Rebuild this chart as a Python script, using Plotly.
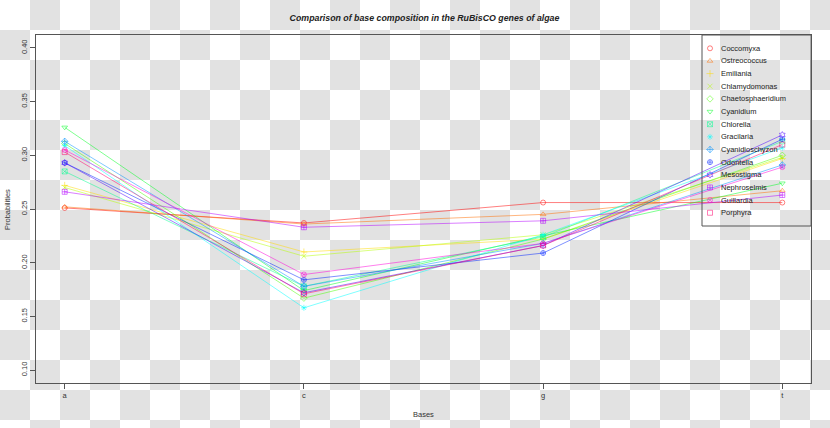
import plotly.graph_objects as go

bases = ["a", "c", "g", "t"]
species = ["Coccomyxa", "Ostreococcus", "Emiliania", "Chlamydomonas", "Chaetosphaeridium",
           "Cyanidium", "Chlorella", "Gracilaria", "Cyanidioschyzon", "Odontella",
           "Mesostigma", "Nephroselmis", "Guillardia", "Porphyra"]

coccomyxa = [0.251, 0.237, 0.256, 0.256]
ostreococcus = [0.252, 0.236, 0.245, 0.267]
emiliania = [0.272, 0.210, 0.222, 0.297]
chlamydomonas = [0.270, 0.206, 0.226, 0.298]
chaetosphaeridium = [0.311, 0.167, 0.222, 0.300]
cyanidium = [0.326, 0.174, 0.225, 0.274]
chlorella = [0.285, 0.178, 0.224, 0.313]
gracilaria = [0.309, 0.158, 0.226, 0.307]
cyanidioschyzon = [0.313, 0.178, 0.218, 0.291]
odontella = [0.293, 0.184, 0.209, 0.315]
mesostigma = [0.293, 0.172, 0.216, 0.319]
nephroselmis = [0.266, 0.233, 0.239, 0.263]
guillardia = [0.305, 0.189, 0.218, 0.289]
porphyra = [0.303, 0.171, 0.216, 0.310]

series = [coccomyxa, ostreococcus, emiliania, chlamydomonas, chaetosphaeridium, cyanidium,
          chlorella, gracilaria, cyanidioschyzon, odontella, mesostigma, nephroselmis,
          guillardia, porphyra]

y_ticks = [0.10, 0.15, 0.20, 0.25, 0.30, 0.35, 0.40]

# R rainbow(14)
colors = ["#FF0000", "#FF6D00", "#FFDB00", "#B6FF00", "#49FF00", "#00FF24", "#00FF92",
          "#00FFFF", "#0092FF", "#0024FF", "#4900FF", "#B600FF", "#FF00DB", "#FF006D"]
symbols = ["circle-open", "triangle-up-open", "cross-thin-open", "x-thin-open", "diamond-open",
           "triangle-down-open", "square-x-open", "asterisk-open", "diamond-cross-open",
           "circle-cross-open", "hexagram-open", "square-cross-open", "circle-x-open", "square-open"]


def rgba(h, a):
    h = h.lstrip("#")
    return "rgba(%d,%d,%d,%.2f)" % (int(h[0:2], 16), int(h[2:4], 16), int(h[4:6], 16), a)


W, H = 830, 428
L, R, T, B = 36, 19, 35, 45
PW, PH = W - L - R, H - T - B


def px(xp):
    return (xp - L) / PW


def py(yp):
    return (H - B - yp) / PH


FONT = "Liberation Sans, Arial, sans-serif"
ALPHA = 0.5
MS = 5

fig = go.Figure()
xs = list(range(1, len(bases) + 1))
for name, vals, c, s in zip(species, series, colors, symbols):
    fig.add_trace(go.Scatter(
        x=xs, y=vals, mode="lines+markers", name=name, showlegend=False,
        line=dict(color=rgba(c, ALPHA), width=1),
        marker=dict(symbol=s, size=MS, color=rgba(c, ALPHA), line=dict(color=rgba(c, ALPHA), width=1)),
    ))

# manual legend (R style) on a pixel axis
leg_x, leg_y0, leg_dy = 710, 48.3, 12.65
for i, (name, c, s) in enumerate(zip(species, colors, symbols)):
    yy = leg_y0 + i * leg_dy
    fig.add_trace(go.Scatter(
        x=[leg_x], y=[yy], xaxis="x2", yaxis="y2", mode="markers", showlegend=False,
        hoverinfo="skip",
        marker=dict(symbol=s, size=MS, color=rgba(c, ALPHA), line=dict(color=rgba(c, ALPHA), width=1)),
    ))
    fig.add_annotation(x=px(leg_x + 9), y=py(yy), xref="paper", yref="paper", text=name,
                       showarrow=False, xanchor="left", yanchor="middle",
                       font=dict(family=FONT, size=7.5, color="#222"))

shapes = []
# checkerboard background
for row in range(15):
    for col in range(28):
        if (row + col) % 2 == 1:
            shapes.append(dict(type="rect", xref="paper", yref="paper",
                               x0=px(col * 30), x1=px(col * 30 + 30),
                               y0=py(row * 30 + 30), y1=py(row * 30),
                               fillcolor="#e2e2e2", line=dict(width=0), layer="below"))
# legend box
shapes.append(dict(type="rect", xref="paper", yref="paper", x0=px(702), x1=px(811),
                   y0=py(226), y1=py(35), line=dict(color="#555", width=1), layer="above"))

fig.update_layout(
    width=W, height=H, margin=dict(l=L, r=R, t=T, b=B, autoexpand=False),
    paper_bgcolor="white", plot_bgcolor="rgba(0,0,0,0)",
    shapes=shapes,
    title=dict(text="<b><i>Comparison of base composition in the RuBisCO genes of algae</i></b>",
               x=px(424.5), xref="paper", xanchor="center", y=1 - 18 / H, yref="container",
               yanchor="middle", font=dict(family=FONT, size=8.8, color="#222")),
    xaxis=dict(range=[0.88, 4.12], tickvals=xs, ticktext=bases, showgrid=False, zeroline=False,
               automargin=False,
               showline=True, mirror=True, linecolor="#555", linewidth=1, ticks="outside",
               ticklen=5, tickcolor="#555", tickfont=dict(family=FONT, size=7.5, color="#333")),
    yaxis=dict(range=[0.088, 0.412], tickvals=y_ticks, tickformat=".2f", tickangle=-90,
               automargin=False,
               showgrid=False, zeroline=False, showline=True, mirror=True, linecolor="#555",
               linewidth=1, ticks="outside", ticklen=5, tickcolor="#555",
               tickfont=dict(family=FONT, size=7.5, color="#333")),
    xaxis2=dict(range=[L, W - R], overlaying="x", anchor="y2", visible=False, fixedrange=True),
    yaxis2=dict(range=[H - B, T], overlaying="y", anchor="x2", visible=False, fixedrange=True),
)

fig.add_annotation(x=px(423.5), y=py(415), xref="paper", yref="paper", text="Bases",
                   showarrow=False, xanchor="center", yanchor="middle",
                   font=dict(family=FONT, size=7.5, color="#333"))
fig.add_annotation(x=px(7), y=py(209), xref="paper", yref="paper", text="Probabilities",
                   showarrow=False, xanchor="center", yanchor="middle", textangle=-90,
                   font=dict(family=FONT, size=7.5, color="#333"))

fig.write_html("out.html", config={"displayModeBar": False},
               post_script="document.body.style.margin='0px';")
